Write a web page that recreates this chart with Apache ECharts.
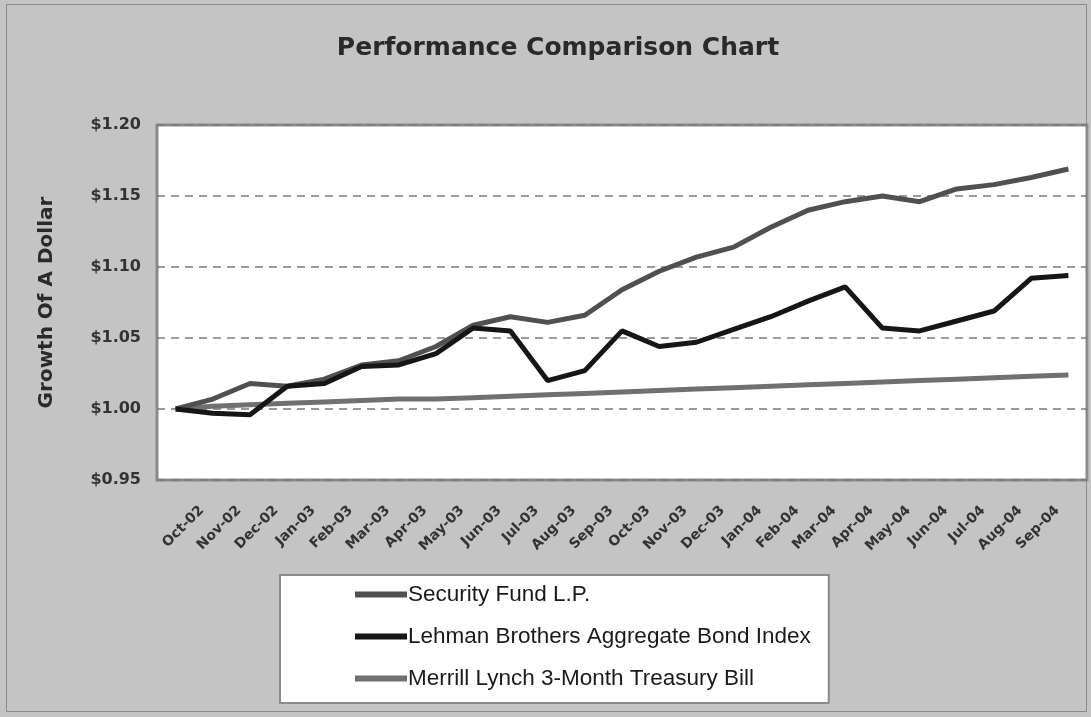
<!DOCTYPE html>
<html>
<head>
<meta charset="utf-8">
<script src="https://cdn.jsdelivr.net/npm/echarts@6/dist/echarts.min.js"></script>
<style>
html,body{margin:0;padding:0;background:#c4c4c4;}
#chart{width:1091px;height:717px;}
</style>
</head>
<body>
<div id="chart"></div>
<script>
const months = ['Oct-02','Nov-02','Dec-02','Jan-03','Feb-03','Mar-03','Apr-03','May-03','Jun-03','Jul-03','Aug-03','Sep-03','Oct-03','Nov-03','Dec-03','Jan-04','Feb-04','Mar-04','Apr-04','May-04','Jun-04','Jul-04','Aug-04','Sep-04',''];
const securityFund = [1.000,1.007,1.018,1.016,1.021,1.031,1.034,1.044,1.059,1.065,1.061,1.066,1.084,1.097,1.107,1.114,1.128,1.140,1.146,1.150,1.146,1.155,1.158,1.163,1.169];
const lehman = [1.000,0.997,0.996,1.016,1.018,1.030,1.031,1.039,1.057,1.055,1.020,1.027,1.055,1.044,1.047,1.056,1.065,1.076,1.086,1.057,1.055,1.062,1.069,1.092,1.094];
const tbill = [1.000,1.002,1.003,1.004,1.005,1.006,1.007,1.007,1.008,1.009,1.010,1.011,1.012,1.013,1.014,1.015,1.016,1.017,1.018,1.019,1.020,1.021,1.022,1.023,1.024];
const seriesNames = ['Security Fund L.P.','Lehman Brothers Aggregate Bond Index','Merrill Lynch 3-Month Treasury Bill'];

const chart = echarts.init(document.getElementById('chart'));
chart.setOption({
  backgroundColor: '#c4c4c4',
  animation: false,
  title: {
    text: 'Performance Comparison Chart',
    left: 553, top: 31, textAlign: 'center',
    textStyle: {fontFamily: 'DejaVu Sans', fontWeight: 'bold', fontSize: 25, color: '#2a2a2a'}
  },
  graphic: [{
    type: 'rect', shape: {x: 6.5, y: 4.5, width: 1080, height: 707},
    style: {fill: 'none', stroke: '#8a8a8a', lineWidth: 1}, silent: true, z: -1
  }],
  legend: {
    orient: 'vertical',
    left: 280, top: 575,
    padding: [8, 18, 13, 75],
    itemGap: 19,
    itemWidth: 52, itemHeight: 6,
    icon: 'rect',
    backgroundColor: '#ffffff',
    borderColor: '#8a8a8a', borderWidth: 2,
    textStyle: {fontFamily: 'Liberation Sans', fontSize: 22.5, color: '#1a1a1a', padding: [0,0,0,-4]},
    data: seriesNames
  },
  grid: {
    left: 157, right: 4, top: 125, bottom: 237,
    show: true, backgroundColor: '#ffffff', borderColor: '#8a8a8a', borderWidth: 3
  },
  xAxis: {
    type: 'category',
    data: months,
    boundaryGap: true,
    axisLine: {show: false},
    axisTick: {show: false},
    axisLabel: {
      interval: 0, rotate: 45, margin: 2,
      align: 'right', verticalAlign: 'top', padding: [30, 0, 0, 0],
      fontFamily: 'DejaVu Sans', fontWeight: 'bold', fontSize: 14, color: '#333'
    }
  },
  yAxis: {
    type: 'value',
    min: 0.95, max: 1.20, interval: 0.05,
    name: 'Growth Of A Dollar',
    nameLocation: 'middle', nameRotate: 90, nameGap: 100,
    nameTextStyle: {fontFamily: 'DejaVu Sans', fontWeight: 'bold', fontSize: 20, color: '#2a2a2a'},
    axisLine: {show: false},
    axisTick: {show: false},
    axisLabel: {
      margin: 16,
      fontFamily: 'DejaVu Sans', fontWeight: 'bold', fontSize: 16, color: '#333',
      formatter: v => '$' + v.toFixed(2)
    },
    splitLine: {show: true, lineStyle: {color: '#7a7a7a', type: [8, 6], width: 1.5}}
  },
  series: [
    {name: seriesNames[0], type: 'line', data: securityFund, symbol: 'none', z: 3,
     lineStyle: {color: '#505050', width: 5}, itemStyle: {color: '#505050'}},
    {name: seriesNames[1], type: 'line', data: lehman, symbol: 'none', z: 4,
     lineStyle: {color: '#161616', width: 5}, itemStyle: {color: '#161616'}},
    {name: seriesNames[2], type: 'line', data: tbill, symbol: 'none', z: 2,
     lineStyle: {color: '#707070', width: 5}, itemStyle: {color: '#707070'}}
  ]
});
</script>
</body>
</html>
